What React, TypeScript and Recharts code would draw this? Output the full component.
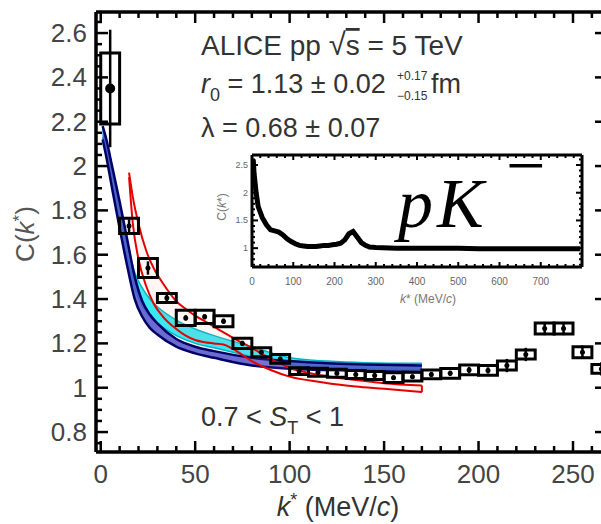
import React from 'react';
import {
  ComposedChart,
  LineChart,
  Line,
  Area,
  Scatter,
  ErrorBar,
  XAxis,
  YAxis,
  ReferenceArea,
} from 'recharts';

// measured pK- correlation, 0.7 < S_T < 1
const kStar = [5, 15, 25, 35, 45, 55, 65, 75, 85, 95, 105, 115, 125, 135, 145, 155, 165, 175, 185, 195, 205, 215, 225, 235, 245, 255, 265];
const cValue = [2.35, 1.73, 1.54, 1.405, 1.315, 1.32, 1.3, 1.2, 1.16, 1.13, 1.075, 1.07, 1.065, 1.06, 1.055, 1.045, 1.05, 1.06, 1.065, 1.08, 1.078, 1.1, 1.15, 1.267, 1.267, 1.16, 1.085];
const statErr = [0.265, 0.03, 0.03, 0.015, 0.012, 0.012, 0.012, 0.012, 0.01, 0.01, 0.01, 0.01, 0.01, 0.01, 0.01, 0.01, 0.01, 0.012, 0.012, 0.014, 0.014, 0.03, 0.03, 0.03, 0.03, 0.03, 0.03];
const sysErr = [0.16, 0.034, 0.043, 0.02, 0.034, 0.03, 0.025, 0.023, 0.02, 0.02, 0.015, 0.018, 0.018, 0.018, 0.018, 0.022, 0.02, 0.02, 0.022, 0.022, 0.022, 0.02, 0.02, 0.025, 0.025, 0.025, 0.02];
const binHalf = 5;

// model bands
const bandK = [1, 3, 6, 10, 14, 18, 22, 26, 30, 40, 50, 60, 80, 100, 120, 140, 170];
const blueHigh = [2.18, 2.12, 2.0, 1.84, 1.67, 1.5, 1.39, 1.33, 1.29, 1.22, 1.185, 1.165, 1.135, 1.12, 1.11, 1.105, 1.1];
const blueLow = [2.12, 2.04, 1.9, 1.72, 1.55, 1.4, 1.32, 1.27, 1.24, 1.185, 1.155, 1.135, 1.1, 1.085, 1.08, 1.075, 1.07];
const cyanHigh = [2.17, 2.09, 1.97, 1.81, 1.65, 1.52, 1.45, 1.4, 1.365, 1.305, 1.265, 1.235, 1.185, 1.135, 1.12, 1.113, 1.11];
const cyanLow = [2.13, 2.05, 1.92, 1.75, 1.59, 1.45, 1.37, 1.32, 1.29, 1.235, 1.2, 1.18, 1.14, 1.1, 1.09, 1.085, 1.08];

const redK = [15, 17, 20, 24, 28, 33, 40, 45, 50, 55, 60, 65, 70, 80, 90, 100, 117, 135, 150, 170];
const redHigh = [1.97, 1.86, 1.74, 1.62, 1.54, 1.47, 1.39, 1.355, 1.325, 1.3, 1.275, 1.25, 1.225, 1.18, 1.13, 1.09, 1.055, 1.035, 1.02, 1.01];
const redLow = [1.95, 1.74, 1.58, 1.46, 1.38, 1.32, 1.265, 1.235, 1.215, 1.205, 1.2, 1.195, 1.175, 1.12, 1.08, 1.05, 1.025, 1.005, 0.995, 0.98];

// inset, full k* range
const insetK = [3, 5, 10, 15, 25, 35, 45, 55, 65, 75, 85, 95, 105, 115, 125, 135, 145, 155, 165, 175, 185, 195, 205, 215, 225, 235, 245, 255, 265, 275, 285, 300, 350, 400, 450, 500, 550, 600, 650, 700, 750, 795];
const insetC = [2.6, 2.35, 2.0, 1.75, 1.55, 1.42, 1.33, 1.31, 1.29, 1.24, 1.17, 1.12, 1.08, 1.05, 1.04, 1.03, 1.03, 1.03, 1.04, 1.05, 1.05, 1.06, 1.07, 1.09, 1.15, 1.26, 1.3, 1.2, 1.1, 1.05, 1.02, 1.01, 1.0, 1.0, 1.0, 1.0, 0.99, 0.99, 0.99, 0.99, 0.99, 0.99];

// tick labels
const xMajor = [0, 50, 100, 150, 200, 250];
const yMajor = [0.8, 1, 1.2, 1.4, 1.6, 1.8, 2, 2.2, 2.4, 2.6];
const insetXMajor = [0, 100, 200, 300, 400, 500, 600, 700];
const insetYMajor = [1, 1.5, 2, 2.5];

const range = (from: number, to: number, step: number) => {
  const out: number[] = [];
  for (let i = 0; from + i * step <= to + 1e-9; i++) out.push(Math.round((from + i * step) * 1000) / 1000);
  return out;
};

const xTicks = range(0, 260, 10);
const yTicks = range(0.75, 2.65, 0.05);
const insetXTicks = range(0, 780, 20);
const insetYTicks = range(0.7, 2.6, 0.1);

const FONT = '"Liberation Sans", Arial, Helvetica, sans-serif';
const INK = '#333';

const points = kStar.map((k, i) => ({ k, c: cValue[i], stat: statErr[i], sys: sysErr[i] }));
const band = (ks: number[], lo: number[], hi: number[]) => ks.map((k, i) => ({ k, band: [lo[i], hi[i]] }));
const blueData = band(bandK, blueLow, blueHigh);
const cyanData = band(bandK, cyanLow, cyanHigh);
const redData = band(redK, redLow, redHigh);
const redEnd = [
  { k: redK[redK.length - 1], c: redLow[redLow.length - 1] },
  { k: redK[redK.length - 1], c: redHigh[redHigh.length - 1] },
];
const insetData = insetK.map((k, i) => ({ k, c: insetC[i] }));

type Side = 'bottom' | 'top' | 'left' | 'right';
interface TickOpts {
  major: number;
  minor: number;
  width: number;
  labels?: boolean;
  fontSize?: number;
  gap?: number;
  color?: string;
}

// inward ticks, labels only on the major ones
function tickRenderer(side: Side, majors: number[], o: TickOpts) {
  return (props: any) => {
    const { x, y, payload } = props;
    const v = payload.value;
    const big = majors.some((m) => Math.abs(m - v) < 1e-6);
    const len = big ? o.major : o.minor;
    let x2 = x;
    let y2 = y;
    if (side === 'bottom') y2 = y - len;
    if (side === 'top') y2 = y + len;
    if (side === 'left') x2 = x + len;
    if (side === 'right') x2 = x - len;
    const style = { fontFamily: FONT, fontSize: o.fontSize, fill: o.color || '#444' };
    return (
      <g>
        <line x1={x} y1={y} x2={x2} y2={y2} stroke="#000" strokeWidth={o.width} />
        {o.labels && big && side === 'bottom' && (
          <text x={x} y={y + (o.gap || 0)} textAnchor="middle" dominantBaseline="central" style={style}>
            {String(v)}
          </text>
        )}
        {o.labels && big && side === 'left' && (
          <text x={x - (o.gap || 0)} y={y} textAnchor="end" dominantBaseline="central" style={style}>
            {String(v)}
          </text>
        )}
      </g>
    );
  };
}

const frame = { stroke: '#000', strokeWidth: 3.5 };
const insetFrame = { stroke: '#000', strokeWidth: 3 };

function PointMarker(props: any) {
  const { cx, cy, payload } = props;
  return <circle cx={cx} cy={cy} r={payload.k < 10 ? 5 : 2.5} fill="#000" />;
}

function Inset() {
  const xDomain: [number, number] = [0, 800];
  const yDomain: [number, number] = [0.66, 2.68];
  const common = { tickSize: 0, tickMargin: 0, tickLine: false, interval: 0 as const, allowDataOverflow: true };
  return (
    <div style={{ position: 'absolute', left: 230, top: 140 }}>
      <LineChart width={360} height={170} margin={{ top: 14, right: 7, bottom: 42, left: 21 }} data={insetData}>
        <XAxis type="number" dataKey="k" domain={xDomain} ticks={insetXTicks} height={1} axisLine={insetFrame}
          tick={tickRenderer('bottom', insetXMajor, { major: 5, minor: 3, width: 2, labels: true, fontSize: 10, gap: 14, color: '#666' })} {...common} />
        <XAxis xAxisId="t" orientation="top" type="number" dataKey="k" domain={xDomain} ticks={insetXTicks} height={1} axisLine={insetFrame}
          tick={tickRenderer('top', insetXMajor, { major: 5, minor: 3, width: 2 })} {...common} />
        <YAxis type="number" domain={yDomain} ticks={insetYTicks} width={1} axisLine={insetFrame}
          tick={tickRenderer('left', insetYMajor, { major: 6, minor: 3, width: 2, labels: true, fontSize: 9, gap: 4, color: '#666' })} {...common} />
        <YAxis yAxisId="r" orientation="right" type="number" domain={yDomain} ticks={insetYTicks} width={1} axisLine={insetFrame}
          tick={tickRenderer('right', insetYMajor, { major: 6, minor: 3, width: 2 })} {...common} />
        <Line dataKey="c" type="linear" stroke="#000" strokeWidth={5} dot={false} activeDot={false} isAnimationActive={false} />
      </LineChart>
    </div>
  );
}

export default function App() {
  const xDomain: [number, number] = [-2.5, 268];
  const yDomain: [number, number] = [0.71, 2.695];
  const common = { tickSize: 0, tickMargin: 0, tickLine: false, interval: 0 as const, allowDataOverflow: true };
  const text = { fontFamily: FONT, fill: INK };

  return (
    <div style={{ position: 'fixed', left: 0, top: 0, width: 601, height: 524, overflow: 'hidden', background: '#fff' }}>
      <ComposedChart width={620} height={524} margin={{ top: 11, right: 12, bottom: 71, left: 95 }}>
        <XAxis type="number" dataKey="k" domain={xDomain} ticks={xTicks} height={1} axisLine={frame}
          tick={tickRenderer('bottom', xMajor, { major: 11, minor: 6, width: 2.5, labels: true, fontSize: 26, gap: 22 })} {...common} />
        <XAxis xAxisId="t" orientation="top" type="number" dataKey="k" domain={xDomain} ticks={xTicks} height={1} axisLine={frame}
          tick={tickRenderer('top', xMajor, { major: 11, minor: 6, width: 2.5 })} {...common} />
        <YAxis type="number" domain={yDomain} ticks={yTicks} width={1} axisLine={frame}
          tick={tickRenderer('left', yMajor, { major: 12, minor: 6, width: 2.5, labels: true, fontSize: 26, gap: 9 })} {...common} />
        <YAxis yAxisId="r" orientation="right" type="number" domain={yDomain} ticks={yTicks} width={1} axisLine={frame}
          tick={tickRenderer('right', yMajor, { major: 12, minor: 6, width: 2.5 })} {...common} />

        <Area data={cyanData} dataKey="band" type="monotone" stroke="#00b4c4" strokeWidth={1.5} fill="#18e4f0" fillOpacity={0.85}
          dot={false} activeDot={false} isAnimationActive={false} />
        <Area data={blueData} dataKey="band" type="monotone" stroke="#000066" strokeWidth={2.5} fill="#5252c8" fillOpacity={0.85}
          dot={false} activeDot={false} isAnimationActive={false} />
        <Area data={redData} dataKey="band" type="monotone" stroke="#e60000" strokeWidth={2} fill="#ff9a9a" fillOpacity={0.1}
          dot={false} activeDot={false} isAnimationActive={false} />
        <Line data={redEnd} dataKey="c" type="linear" stroke="#e60000" strokeWidth={2} dot={false} activeDot={false} isAnimationActive={false} />

        {points.map((p) => (
          <ReferenceArea key={p.k} x1={p.k - binHalf} x2={p.k + binHalf} y1={p.c - p.sys} y2={p.c + p.sys}
            fill="none" fillOpacity={0} stroke="#000" strokeWidth={3} ifOverflow="visible" />
        ))}
        <Scatter data={points} dataKey="c" fill="#000" shape={<PointMarker />} isAnimationActive={false}>
          <ErrorBar dataKey="stat" direction="y" width={0} stroke="#000" strokeWidth={2.5} />
        </Scatter>
      </ComposedChart>

      <Inset />

      <svg width={601} height={524} style={{ position: 'absolute', left: 0, top: 0, pointerEvents: 'none' }}>
        <text x={201} y={55} fontSize={28} style={text}>
          ALICE pp <tspan fontSize={31}>√</tspan>
          <tspan textDecoration="overline">s</tspan> = 5 TeV
        </text>
        <text x={201} y={93} fontSize={27} style={text}>
          <tspan fontStyle="italic">r</tspan>
          <tspan fontSize={18} dy={8}>0</tspan>
          <tspan dy={-8}> = 1.13 ± 0.02</tspan>
        </text>
        <text x={397} y={80} fontSize={12} style={text}>+0.17</text>
        <text x={397} y={100} fontSize={12} style={text}>−0.15</text>
        <text x={431} y={93} fontSize={27} style={text}>fm</text>
        <text x={201} y={137} fontSize={27} style={text}>λ = 0.68 ± 0.07</text>
        <text x={201} y={426} fontSize={27} style={text}>
          0.7 &lt; <tspan fontStyle="italic">S</tspan>
          <tspan fontSize={18} dy={8}>T</tspan>
          <tspan dy={-8}> &lt; 1</tspan>
        </text>

        <text x={398} y={227} fontSize={70} style={{ fontFamily: '"Liberation Serif", "Times New Roman", serif', fill: '#000' }} fontStyle="italic">
          p<tspan x={437}>K</tspan>
          <tspan x={506} y={189} fontStyle="normal">−</tspan>
        </text>

        <text x={338} y={516} fontSize={27} textAnchor="middle" style={text}>
          <tspan fontStyle="italic">k</tspan>
          <tspan fontSize={18} dy={-10}>*</tspan>
          <tspan dy={10}> (MeV/</tspan>
          <tspan fontStyle="italic">c</tspan>)
        </text>
        <text x={34} y={234} fontSize={26} textAnchor="middle" transform="rotate(-90 34 234)" style={{ ...text, fill: '#555' }}>
          C(<tspan fontStyle="italic">k</tspan>
          <tspan fontSize={17} dy={-9}>*</tspan>
          <tspan dy={9}>)</tspan>
        </text>

        <text x={428} y={303} fontSize={12} textAnchor="middle" style={{ ...text, fill: '#777' }}>
          <tspan fontStyle="italic">k</tspan>* (MeV/<tspan fontStyle="italic">c</tspan>)
        </text>
        <text x={226} y={207} fontSize={12} textAnchor="middle" transform="rotate(-90 226 207)" style={{ ...text, fill: '#777' }}>
          C(<tspan fontStyle="italic">k</tspan>*)
        </text>
      </svg>
    </div>
  );
}
